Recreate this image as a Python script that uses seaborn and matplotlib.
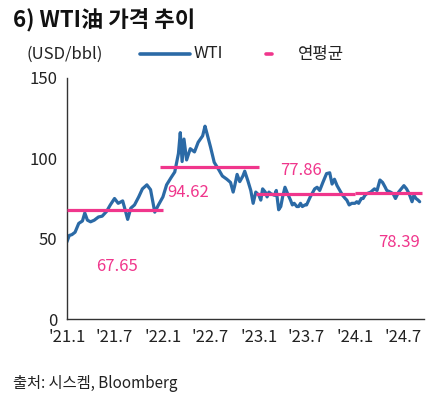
import pandas as pd
import matplotlib.pyplot as plt
from matplotlib.lines import Line2D
import seaborn as sns

# WTI price, USD/bbl
dates = ['2021-01-01', '2021-01-10', '2021-01-20', '2021-02-01', '2021-02-15', '2021-03-01', '2021-03-10',
         '2021-03-20', '2021-04-01', '2021-04-15', '2021-05-01', '2021-05-15', '2021-06-01', '2021-06-15',
         '2021-07-01', '2021-07-15', '2021-08-01', '2021-08-12', '2021-08-20', '2021-09-01', '2021-09-15',
         '2021-10-01', '2021-10-15', '2021-11-01', '2021-11-15', '2021-12-01', '2021-12-15',
         '2022-01-01', '2022-01-15', '2022-02-01', '2022-02-15', '2022-03-01', '2022-03-08', '2022-03-15',
         '2022-03-22', '2022-04-01', '2022-04-15', '2022-05-01', '2022-05-15', '2022-06-01', '2022-06-10',
         '2022-06-15', '2022-07-01', '2022-07-15', '2022-08-01', '2022-08-15', '2022-09-01', '2022-09-15',
         '2022-09-25', '2022-10-01', '2022-10-10', '2022-10-20', '2022-11-01', '2022-11-08', '2022-11-20',
         '2022-12-01', '2022-12-10', '2022-12-20',
         '2023-01-01', '2023-01-08', '2023-01-15', '2023-01-25', '2023-02-01', '2023-02-08', '2023-02-15',
         '2023-03-01', '2023-03-08', '2023-03-17', '2023-03-25', '2023-04-01', '2023-04-10', '2023-04-20',
         '2023-05-01', '2023-05-08', '2023-05-15', '2023-05-25', '2023-06-01', '2023-06-08', '2023-06-15',
         '2023-06-25', '2023-07-01', '2023-07-15', '2023-08-01', '2023-08-10', '2023-08-20', '2023-09-01',
         '2023-09-15', '2023-09-27', '2023-10-06', '2023-10-15', '2023-10-25', '2023-11-01', '2023-11-15',
         '2023-11-25', '2023-12-01', '2023-12-10', '2023-12-20',
         '2024-01-01', '2024-01-08', '2024-01-15', '2024-01-25', '2024-02-01', '2024-02-08', '2024-02-15',
         '2024-03-01', '2024-03-15', '2024-03-25', '2024-04-05', '2024-04-15', '2024-04-25', '2024-05-01',
         '2024-05-15', '2024-05-25', '2024-06-03', '2024-06-15', '2024-06-25', '2024-07-05', '2024-07-15',
         '2024-07-25', '2024-08-05', '2024-08-12', '2024-08-20', '2024-08-28', '2024-09-03']
wti = [48, 52, 52.5, 54, 59.5, 61, 66, 61.5, 60.5, 61.5, 63.5, 64, 67, 71,
       75, 72, 73.5, 67, 62, 69, 71,
       76, 81, 83.5, 80.5, 66.5, 71,
       76, 83.5, 88, 91.5, 103, 116, 98,
       112, 99, 106, 104, 110, 114, 120,
       117, 107, 97.5, 93, 89, 87, 85,
       79, 83, 90, 85.5, 89, 92, 86,
       80, 72, 79,
       77, 74, 81, 79, 76, 79, 78,
       77, 80, 68, 70, 76, 82, 78,
       74, 71, 72, 70, 70, 72, 70,
       71, 71, 76, 81, 82, 80, 85,
       90.5, 91, 84, 87, 83, 81, 77,
       75, 74, 71, 72,
       72, 73, 72, 75, 75, 77, 78,
       79, 81, 80, 86.5, 85, 82, 80,
       79, 78, 75, 79, 81, 83, 81,
       78, 73, 77, 75, 74, 73]

# annual averages
years = ['2021', '2022', '2023', '2024']
avg_start = ['2021-01-01', '2021-12-20', '2022-12-20', '2024-01-01']
avg_end = ['2021-12-31', '2022-12-31', '2023-12-31', '2024-09-10']
avg_val = [67.65, 94.62, 77.86, 78.39]

tick_dates = ['2021-01-01', '2021-07-01', '2022-01-01', '2022-07-01',
              '2023-01-01', '2023-07-01', '2024-01-01', '2024-07-01']
tick_labels = ["'21.1", "'21.7", "'22.1", "'22.7", "'23.1", "'23.7", "'24.1", "'24.7"]

df = pd.DataFrame({'date': pd.to_datetime(dates), 'WTI': wti})

sns.set_style("white")
plt.rcParams['font.family'] = ['Noto Sans CJK KR', 'DejaVu Sans']

blue = '#2b6aa6'
pink = '#f0368c'

fig = plt.figure(figsize=(4.46, 4.0), dpi=100)
ax = fig.add_axes([0.150, 0.2025, 0.801, 0.6025])

sns.lineplot(data=df, x='date', y='WTI', ax=ax, color=blue, linewidth=2.3)
ax.hlines(avg_val, pd.to_datetime(avg_start), pd.to_datetime(avg_end), color=pink, linewidth=2.3, zorder=3)

# value labels
lab_pos = [('2021-07-10', 32.5), ('2022-04-05', 78.5), ('2023-06-10', 92.5), ('2024-06-15', 47.5)]
for (d, yv), v in zip(lab_pos, avg_val):
    ax.text(pd.to_datetime(d), yv, f'{v:.2f}', color=pink, fontsize=12, ha='center', va='center')

ax.set_ylim(0, 150)
ax.set_yticks([0, 50, 100, 150])
ax.set_xlim(pd.to_datetime('2021-01-01'), pd.to_datetime('2024-09-20'))
ax.set_xticks(pd.to_datetime(tick_dates))
ax.set_xticklabels(tick_labels)
ax.set_xlabel('')
ax.set_ylabel('')
for s in ['top', 'right']:
    ax.spines[s].set_visible(False)
for s in ['left', 'bottom']:
    ax.spines[s].set_color('#333333')
    ax.spines[s].set_linewidth(1.0)
ax.tick_params(axis='both', direction='out', length=4, width=1, color='#333333',
               labelsize=12, labelcolor='#222222', pad=3)

# title, unit, legend
fig.text(0.03, 0.952, '6) WTI油 가격 추이', fontsize=16, fontweight='bold', color='#111111', va='center')
fig.text(0.06, 0.865, '(USD/bbl)', fontsize=12, color='#222222', va='center')
fig.add_artist(Line2D([0.315, 0.425], [0.865, 0.865], color=blue, linewidth=2.6))
fig.text(0.435, 0.865, 'WTI', fontsize=12, color='#222222', va='center')
fig.add_artist(Line2D([0.596, 0.61], [0.865, 0.865], color=pink, linewidth=2.6))
fig.text(0.668, 0.865, '연평균', fontsize=12, color='#222222', va='center')

fig.text(0.03, 0.042, '출처: 시스켐, Bloomberg', fontsize=11, color='#222222', va='center')

plt.savefig("out.png", dpi=100)
